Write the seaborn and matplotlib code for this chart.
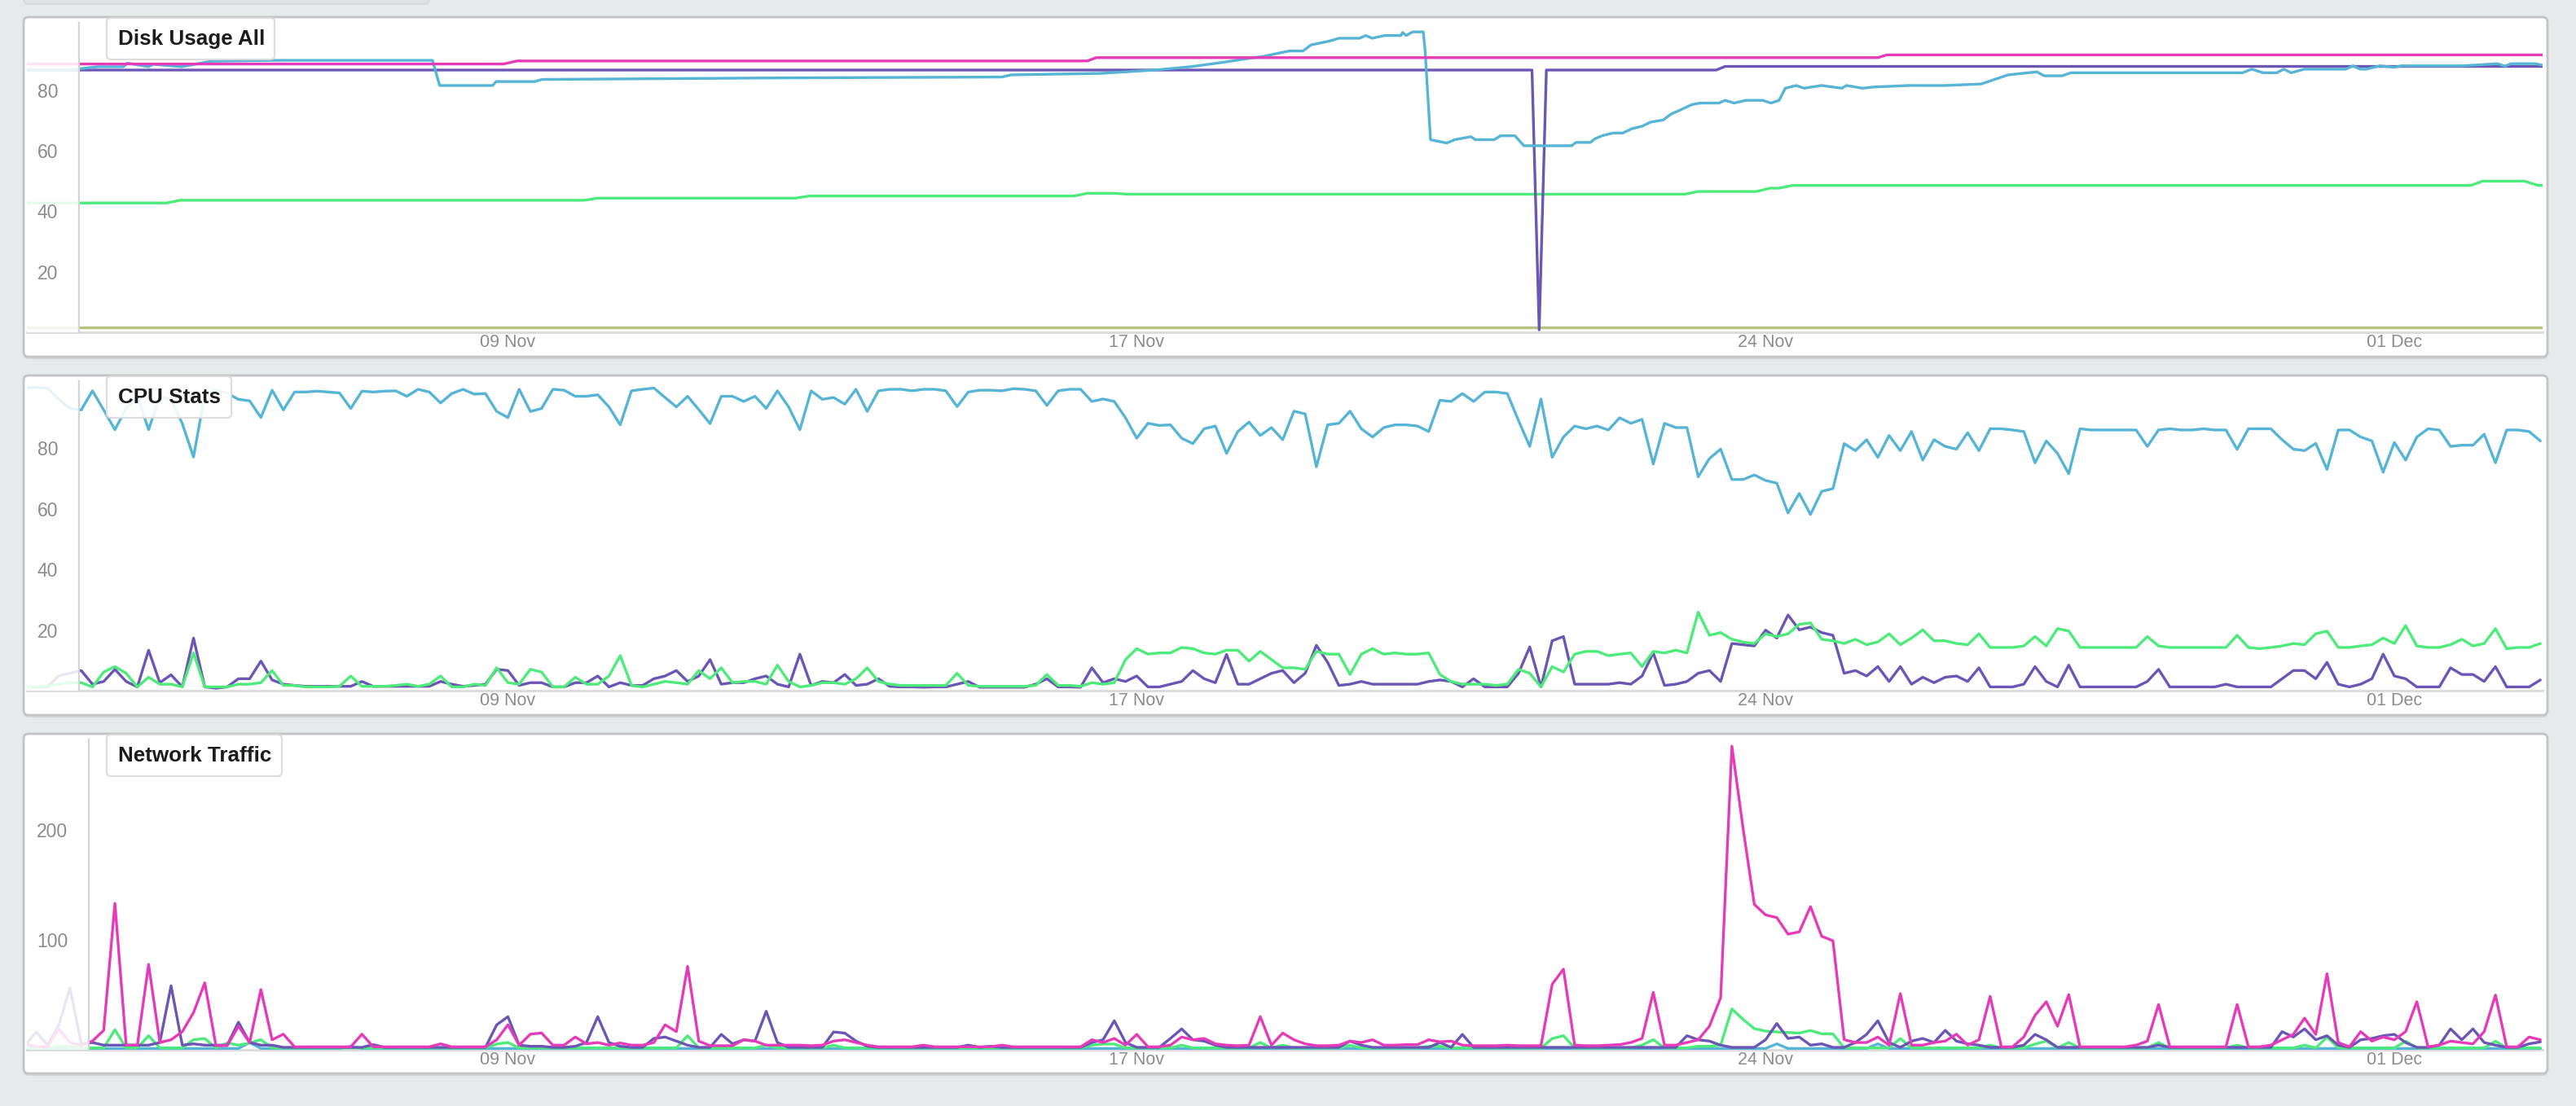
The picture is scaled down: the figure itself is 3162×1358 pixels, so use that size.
import numpy as np
import pandas as pd
import matplotlib
matplotlib.use("Agg")
import matplotlib.pyplot as plt
import seaborn as sns
from matplotlib.patches import FancyBboxPatch
from matplotlib.transforms import IdentityTransform

# ---- data (3-hourly samples, x = days, 0 is the "09 Nov" tick) ----
tick_pos = [0, 7, 14, 21]
tick_labels = ["09 Nov", "17 Nov", "24 Nov", "01 Dec"]

cpu_user = [
    99.7, 99.9, 99.7, 96.0, 93.0, 92.5, 98.8, 92.5, 86.0, 93.0,
    97.0, 86.0, 97.0, 96.0, 88.0, 77.0, 97.5, 99.0, 98.0, 96.0,
    95.5, 90.0, 99.0, 92.5, 98.4, 98.4, 98.7, 98.4, 98.1, 93.0,
    98.7, 98.4, 98.7, 98.8, 97.0, 99.3, 98.4, 94.8, 97.9, 99.3,
    97.7, 97.9, 92.0, 90.0, 99.3, 92.0, 93.0, 99.3, 99.0, 97.0,
    97.0, 97.5, 93.5, 87.6, 98.8, 99.3, 99.7, 96.6, 93.5, 97.0,
    92.6, 88.0, 97.0, 97.0, 95.3, 97.0, 93.0, 98.8, 93.5, 86.0,
    98.8, 96.0, 96.6, 94.4, 99.3, 92.0,
    98.8, 99.3, 99.3, 98.8, 99.3, 99.3, 98.8, 93.6, 98.4, 99.0,
    99.0, 98.8, 99.5, 99.3, 98.8, 94.0, 98.8, 99.3, 99.3, 95.3,
    96.1, 95.3, 89.9, 83.2, 88.1, 87.4, 87.6, 83.2, 81.4, 86.3,
    87.2, 78.2, 85.4, 88.5, 84.1, 86.7, 82.7, 92.1, 91.2, 73.8,
    87.6, 88.1, 92.1, 86.3, 83.6, 86.7, 87.6, 87.6, 87.2, 85.4,
    95.7, 95.3, 97.9, 95.3, 98.4, 98.4, 97.9, 89.0, 80.5, 96.1,
    76.9, 83.6, 87.2, 86.3, 87.2, 85.9, 89.9, 88.1, 89.4, 74.7,
    88.1, 86.7, 86.7, 70.5, 76.5,
    79.6, 69.6, 69.6, 71.1, 69.3, 68.4, 58.6, 65.0, 58.1, 65.7,
    66.6, 81.4, 79.1, 82.7, 76.9, 84.1, 79.1, 85.4, 76.0, 82.7,
    80.5, 79.6, 85.0, 79.1, 86.3, 86.3, 85.9, 85.4, 75.1, 82.3,
    78.2, 71.5, 86.3, 85.9, 85.9, 85.9, 85.9, 85.9, 80.5, 85.9,
    86.3, 85.9, 85.9, 86.3, 85.9, 85.9, 79.5, 86.3, 86.3, 86.3,
    82.7, 79.6, 79.1, 81.5, 72.9, 85.9, 85.9, 83.6, 82.3, 72.0,
    81.8, 76.0, 83.6, 86.3, 85.9, 80.5, 80.9, 80.9, 84.5, 75.1,
    85.9, 85.9, 85.4, 82.3,
]
cpu_system = [
    1.3, 1.3, 1.3, 5.0, 5.8, 6.7, 2.2, 3.1, 7.1, 3.1,
    1.3, 13.4, 2.7, 5.3, 1.3, 17.4, 1.3, 0.9, 1.3, 4.0,
    4.0, 9.8, 3.6, 2.2, 1.8, 1.5, 1.5, 1.5, 1.5, 1.5,
    3.1, 1.5, 1.5, 1.5, 1.5, 1.5, 1.5, 3.1, 2.2, 1.5,
    1.8, 2.2, 7.1, 6.7, 1.8, 2.7, 2.7, 1.3, 1.3, 2.7,
    2.7, 4.9, 1.3, 2.7, 1.8, 1.8, 4.0, 4.9, 6.7, 3.1,
    4.9, 10.3, 2.2, 2.7, 2.7, 4.0, 4.9, 2.2, 1.3, 12.1,
    1.8, 3.1, 2.7, 5.4, 1.8, 2.2,
    4.0, 1.5, 1.3, 1.3, 1.2, 1.3, 1.3, 2.2, 3.1, 1.2,
    1.2, 1.2, 1.2, 1.2, 2.2, 4.0, 1.3, 1.3, 1.2, 7.6,
    2.7, 4.0, 3.1, 4.9, 1.3, 1.3, 2.2, 3.1, 6.7, 4.0,
    2.7, 12.0, 2.2, 2.2, 4.0, 5.8, 6.7, 2.7, 5.8, 15.0,
    9.4, 1.8, 2.2, 3.1, 2.2, 2.2, 2.2, 2.2, 2.2, 3.1,
    3.6, 3.1, 1.3, 4.0, 1.3, 1.3, 1.3, 5.8, 14.5, 1.3,
    16.5, 17.9, 2.2, 2.2, 2.2, 2.2, 2.7, 2.2, 4.9, 12.5,
    1.8, 2.2, 3.1, 5.8, 6.7,
    3.1, 15.6, 15.2, 14.8, 20.0, 17.4, 25.0, 20.1, 21.0, 19.2,
    18.3, 5.8, 6.7, 4.9, 8.0, 3.1, 8.0, 2.2, 4.5, 2.7,
    4.5, 4.9, 3.1, 7.6, 1.3, 1.3, 1.3, 2.2, 8.0, 3.1,
    1.3, 8.5, 1.3, 1.3, 1.3, 1.3, 1.3, 1.3, 3.1, 7.1,
    1.3, 1.3, 1.3, 1.3, 1.3, 2.2, 1.3, 1.3, 1.3, 1.3,
    4.0, 6.7, 6.7, 4.0, 9.4, 2.2, 1.3, 2.2, 4.0, 12.1,
    4.9, 4.0, 1.3, 1.3, 1.3, 7.6, 5.4, 5.4, 3.1, 8.0,
    1.3, 1.3, 1.3, 3.6,
]
cpu_iowait = [
    1.3, 1.3, 1.5, 2.2, 2.7, 2.7, 1.3, 6.2, 8.0, 5.8,
    1.3, 4.5, 2.2, 2.2, 1.3, 12.5, 1.3, 1.3, 1.3, 2.2,
    2.2, 2.7, 6.7, 1.8, 1.8, 1.3, 1.3, 1.3, 1.5, 4.9,
    1.5, 1.5, 1.5, 1.8, 2.2, 1.5, 2.2, 4.9, 1.3, 1.3,
    2.2, 1.8, 7.6, 2.7, 2.2, 7.1, 6.2, 1.3, 1.3, 4.5,
    2.2, 2.2, 4.9, 11.6, 1.8, 1.3, 2.2, 3.1, 2.7, 2.2,
    6.7, 4.0, 7.6, 2.7, 3.1, 3.1, 2.2, 8.5, 3.1, 1.3,
    1.8, 2.7, 2.7, 2.2, 4.0, 7.6,
    3.1, 2.2, 1.8, 1.8, 1.8, 1.8, 1.8, 5.8, 1.8, 1.5,
    1.5, 1.5, 1.5, 1.5, 1.8, 5.4, 1.8, 1.8, 1.5, 2.7,
    2.2, 2.7, 10.3, 13.9, 12.1, 12.5, 12.5, 14.3, 13.9, 12.5,
    12.1, 13.4, 13.4, 9.8, 13.0, 10.3, 7.6, 7.6, 7.1, 13.0,
    12.1, 12.1, 5.4, 12.1, 13.9, 12.1, 12.5, 12.1, 12.1, 12.5,
    5.4, 3.1, 2.2, 2.2, 2.2, 1.8, 2.2, 7.1, 5.8, 1.3,
    8.0, 6.2, 12.1, 13.0, 13.0, 11.6, 12.1, 12.5, 8.0, 13.0,
    12.5, 13.4, 12.5, 25.9, 18.3,
    19.2, 17.0, 16.1, 15.6, 18.8, 17.9, 18.8, 21.9, 22.4, 17.0,
    16.5, 15.6, 17.0, 15.2, 16.1, 18.8, 15.2, 17.4, 20.1, 16.5,
    16.5, 15.6, 15.2, 18.8, 14.3, 14.3, 14.3, 14.8, 17.9, 14.8,
    20.5, 19.7, 14.3, 14.3, 14.3, 14.3, 14.3, 14.3, 17.9, 14.8,
    14.3, 14.3, 14.3, 14.3, 14.3, 14.3, 18.3, 14.3, 13.9, 14.3,
    14.8, 15.6, 15.2, 18.8, 19.7, 14.3, 14.3, 14.8, 15.2, 17.4,
    15.6, 21.5, 14.8, 14.3, 14.3, 15.2, 17.0, 14.8, 15.6, 20.5,
    13.9, 14.3, 14.3, 15.6,
]

net_out = [
    5.2, 2.5, 2.5, 18.8, 6.4, 4.0, 7.7, 17.5, 133, 4.0,
    4.0, 77.5, 6.4, 8.9, 16.3, 33.6, 60.7, 3.5, 3.5, 21.2,
    6.4, 54.6, 8.9, 14.0, 2.5, 2.5, 2.5, 2.5, 2.5, 2.5,
    14.0, 2.5, 2.5, 2.5, 2.5, 2.5, 2.5, 5.2, 2.5, 2.5,
    2.5, 2.5, 8.9, 22.5, 4.0, 14.0, 15.1, 4.0, 4.0, 11.4,
    5.2, 6.4, 4.0, 6.0, 4.0, 4.0, 6.4, 22.5, 16.3, 75.6,
    7.7, 3.5, 3.5, 3.5, 8.9, 7.7, 4.0, 4.0, 4.0, 4.0,
    3.5, 4.0, 7.7, 8.9, 6.4, 4.0,
    2.5, 2.5, 2.5, 2.5, 4.0, 2.5, 2.5, 2.5, 2.5, 2.5,
    2.5, 4.0, 2.5, 2.5, 2.5, 2.5, 2.5, 2.5, 2.5, 8.9,
    6.4, 10.1, 4.0, 13.8, 2.5, 2.5, 4.0, 11.4, 8.9, 10.1,
    5.2, 4.0, 3.5, 4.0, 29.9, 4.0, 15.0, 8.9, 5.2, 3.5,
    3.5, 4.0, 7.7, 6.4, 8.9, 4.0, 4.0, 4.5, 4.5, 8.9,
    7.0, 7.7, 4.0, 3.5, 3.5, 3.5, 4.0, 3.5, 3.5, 3.5,
    59.5, 73.1, 4.0, 3.5, 3.5, 4.0, 4.5, 6.4, 10.1, 52.1,
    4.0, 4.0, 6.4, 8.9, 21.2,
    47.2, 276, 201, 132, 122.5, 120, 105, 107, 130, 103,
    99, 9.0, 6.4, 6.4, 11.4, 4.0, 50.9, 4.0, 4.0, 6.4,
    7.7, 14.0, 4.0, 8.9, 48.4, 2.5, 2.5, 11.4, 31.1, 43.5,
    21.2, 50.0, 2.5, 2.5, 2.5, 2.5, 2.5, 4.0, 7.7, 41.0,
    2.5, 2.5, 2.5, 2.5, 2.5, 2.5, 41.0, 2.5, 2.5, 4.0,
    8.9, 13.8, 28.6, 13.8, 69.0, 6.4, 2.5, 16.3, 7.7, 11.4,
    8.9, 16.3, 43.5, 2.5, 4.0, 7.7, 6.4, 5.2, 16.3, 49.6,
    2.5, 2.5, 11.4, 8.9,
]
net_in = [
    4.0, 16.0, 4.0, 22.0, 56.0, 5.2, 6.4, 4.0, 4.0, 4.0,
    4.0, 4.0, 6.4, 58.0, 4.0, 5.2, 4.0, 4.0, 4.0, 24.9,
    6.4, 4.0, 4.0, 2.0, 2.0, 2.0, 2.0, 2.0, 2.0, 2.0,
    2.0, 4.5, 2.0, 2.0, 2.0, 2.0, 2.0, 2.0, 2.0, 2.0,
    2.0, 2.0, 22.5, 29.9, 4.0, 3.0, 3.0, 2.0, 2.0, 3.0,
    6.4, 29.9, 6.4, 3.0, 2.0, 2.0, 10.1, 11.4, 7.7, 4.0,
    2.0, 2.0, 13.8, 5.2, 8.9, 7.7, 34.8, 6.4, 2.0, 2.0,
    2.0, 2.0, 16.0, 15.0, 7.7, 3.0,
    2.0, 2.0, 2.0, 2.0, 2.0, 2.0, 2.0, 2.0, 4.0, 2.0,
    3.0, 2.0, 2.0, 2.0, 2.0, 2.0, 2.0, 2.0, 2.0, 6.4,
    8.9, 26.2, 6.4, 2.0, 2.0, 2.0, 10.1, 18.8, 8.9, 7.7,
    4.0, 2.0, 2.0, 2.0, 2.0, 2.0, 2.0, 2.0, 2.0, 2.0,
    2.0, 2.0, 7.7, 4.0, 2.0, 2.0, 2.0, 2.0, 2.0, 2.0,
    6.4, 2.0, 13.8, 2.0, 2.0, 2.0, 2.0, 2.0, 2.0, 2.0,
    2.0, 2.0, 2.0, 2.0, 2.0, 2.0, 2.0, 2.0, 2.0, 2.0,
    2.0, 2.0, 12.6, 8.9, 7.7,
    4.0, 2.0, 2.0, 2.0, 8.9, 23.7, 10.1, 11.4, 4.0, 5.2,
    2.0, 2.0, 6.4, 13.8, 26.2, 6.4, 2.0, 7.7, 10.1, 6.4,
    17.5, 7.7, 5.2, 4.0, 2.0, 2.0, 2.0, 4.0, 13.8, 8.9,
    2.0, 2.0, 2.0, 2.0, 2.0, 2.0, 2.0, 2.0, 2.0, 4.0,
    2.0, 2.0, 2.0, 2.0, 2.0, 2.0, 2.0, 2.0, 2.0, 2.0,
    16.3, 11.4, 18.8, 8.9, 12.6, 4.0, 2.0, 8.9, 10.1, 12.6,
    13.8, 6.4, 2.0, 2.0, 4.0, 18.8, 8.9, 18.8, 6.4, 4.0,
    2.0, 2.0, 5.2, 7.0,
]
net_err = [
    1.5, 1.5, 1.5, 3.0, 3.0, 1.5, 1.5, 1.5, 18.0, 1.5,
    1.5, 12.6, 1.5, 1.5, 1.5, 9.0, 10.0, 1.5, 6.0, 4.0,
    6.0, 9.0, 1.5, 1.5, 1.5, 1.5, 1.5, 1.5, 1.5, 1.5,
    1.5, 1.5, 1.5, 1.5, 1.5, 1.5, 1.5, 1.5, 1.5, 1.5,
    1.5, 1.5, 5.0, 6.4, 1.5, 1.5, 1.5, 1.5, 1.5, 1.5,
    1.5, 1.5, 1.5, 1.5, 1.5, 1.5, 1.5, 1.5, 1.5, 12.6,
    1.5, 1.5, 1.5, 1.5, 1.5, 1.5, 4.0, 1.5, 1.5, 1.5,
    1.5, 1.5, 4.0, 1.5, 1.5, 1.5,
    1.5, 1.5, 1.5, 1.5, 1.5, 1.5, 1.5, 1.5, 1.5, 1.5,
    1.5, 1.5, 1.5, 1.5, 1.5, 1.5, 1.5, 1.5, 1.5, 4.0,
    5.0, 5.0, 1.5, 1.5, 1.5, 1.5, 1.5, 4.0, 1.5, 1.5,
    1.5, 1.5, 1.5, 1.5, 6.4, 1.5, 4.0, 1.5, 1.5, 1.5,
    1.5, 1.5, 4.0, 1.5, 1.5, 1.5, 1.5, 1.5, 1.5, 3.0,
    3.0, 1.5, 1.5, 1.5, 1.5, 1.5, 1.5, 1.5, 1.5, 1.5,
    10.0, 12.6, 1.5, 1.5, 1.5, 1.5, 1.5, 1.5, 4.0, 9.0,
    1.5, 1.5, 1.5, 3.0, 3.0,
    4.0, 37.0, 27.4, 19.0, 16.8, 16.0, 15.5, 15.0, 17.3, 14.3,
    14.3, 1.5, 1.5, 1.5, 1.5, 1.5, 10.0, 1.5, 1.5, 1.5,
    1.5, 1.5, 1.5, 1.5, 4.0, 1.5, 1.5, 1.5, 5.0, 7.7,
    1.5, 6.4, 1.5, 1.5, 1.5, 1.5, 1.5, 1.5, 1.5, 6.4,
    1.5, 1.5, 1.5, 1.5, 1.5, 1.5, 4.0, 1.5, 1.5, 1.5,
    1.5, 1.5, 4.0, 1.5, 11.4, 1.5, 1.5, 1.5, 1.5, 1.5,
    1.5, 7.6, 1.5, 1.5, 1.5, 1.5, 1.5, 1.5, 1.5, 7.6,
    1.5, 1.5, 1.5, 1.5,
]
net_drop = [
    1.0, 1.0, 1.0, 1.0, 1.0, 1.0, 1.0, 1.0, 1.0, 1.0,
    1.0, 1.0, 1.0, 1.0, 1.0, 1.0, 1.0, 1.0, 1.0, 1.0,
    6.4, 1.0, 1.0, 1.0, 1.0, 1.0, 1.0, 1.0, 1.0, 3.0,
    1.0, 1.0, 1.0, 1.0, 1.0, 1.0, 1.0, 1.0, 1.0, 1.0,
    1.0, 1.0, 1.0, 1.0, 1.0, 1.0, 1.0, 1.0, 1.0, 1.0,
    1.0, 1.0, 1.0, 1.0, 1.0, 1.0, 1.0, 1.0, 1.0, 1.0,
    1.0, 1.0, 1.0, 1.0, 1.0, 1.0, 1.0, 1.0, 1.0, 1.0,
    1.0, 1.0, 1.0, 1.0, 1.0, 1.0,
    1.0, 1.0, 1.0, 1.0, 1.0, 1.0, 1.0, 1.0, 1.0, 1.0,
    1.0, 1.0, 1.0, 1.0, 1.0, 1.0, 1.0, 1.0, 1.0, 1.0,
    1.0, 1.0, 1.0, 1.0, 1.0, 1.0, 1.0, 1.0, 1.0, 1.0,
    1.0, 1.0, 1.0, 1.0, 1.0, 1.0, 1.0, 1.0, 1.0, 1.0,
    1.0, 1.0, 1.0, 1.0, 1.0, 1.0, 1.0, 1.0, 1.0, 1.0,
    1.0, 1.0, 1.0, 1.0, 1.0, 1.0, 1.0, 1.0, 1.0, 1.0,
    1.0, 1.0, 1.0, 1.0, 1.0, 1.0, 1.0, 1.0, 1.0, 1.0,
    1.0, 1.0, 1.0, 1.0, 1.0,
    1.0, 1.0, 1.0, 1.0, 1.0, 5.2, 1.0, 1.0, 1.0, 1.0,
    1.0, 1.0, 1.0, 1.0, 5.2, 1.0, 1.0, 1.0, 1.0, 1.0,
    1.0, 1.0, 1.0, 1.0, 1.0, 1.0, 1.0, 1.0, 1.0, 1.0,
    1.0, 1.0, 1.0, 1.0, 1.0, 1.0, 1.0, 1.0, 1.0, 1.0,
    1.0, 1.0, 1.0, 1.0, 1.0, 1.0, 1.0, 1.0, 1.0, 1.0,
    1.0, 1.0, 1.0, 1.0, 1.0, 1.0, 1.0, 1.0, 1.0, 1.0,
    1.0, 1.0, 1.0, 1.0, 1.0, 1.0, 1.0, 1.0, 1.0, 1.0,
    1.0, 1.0, 1.0, 1.0,
]

# disk usage: breakpoints (day, percent)
disk_a_day = [-5.4, -4.9, -4.56, -4.28, -4.24, -4.0, -3.95, -3.63, -3.31, -2.58,
              -0.84, -0.76, -0.17, -0.13, 0.3, 0.38, 3.0, 5.5, 5.6, 6.6,
              7.2, 7.6, 7.95, 8.3, 8.41, 8.55, 8.7, 8.85, 8.94, 9.15,
              9.25, 9.48, 9.55, 9.62, 9.76, 9.94, 9.96, 10.0, 10.07, 10.19,
              10.21, 10.27, 10.45, 10.54, 10.72, 10.77, 10.98, 11.05, 11.21, 11.31,
              11.84, 11.89, 12.05, 12.1, 12.18, 12.3, 12.41, 12.51, 12.63, 12.72,
              12.86, 12.95, 13.05, 13.18, 13.27, 13.48, 13.55, 13.65, 13.78, 13.97,
              14.06, 14.15, 14.22, 14.34, 14.43, 14.62, 14.85, 14.9, 15.08, 15.2,
              15.6, 16.0, 16.4, 16.7, 17.02, 17.1, 17.3, 17.4, 19.31, 19.41,
              19.54, 19.69, 19.77, 19.85, 20.0, 20.46, 20.54, 20.62, 20.69, 20.84,
              21.0, 21.08, 21.76, 22.15, 22.23, 22.3, 22.57, 22.65]
disk_a_pct = [86.6, 86.6, 87.7, 87.7, 88.9, 87.7, 88.5, 87.7, 89.5, 89.8,
              89.8, 81.5, 81.5, 82.8, 82.8, 83.5, 84.0, 84.3, 85.0, 85.5,
              86.6, 87.7, 89.1, 90.7, 91.1, 92.0, 92.9, 92.9, 94.9, 96.2,
              97.1, 97.1, 98.0, 97.1, 98.0, 98.0, 99.0, 98.0, 99.2, 99.2,
              93.0, 63.6, 62.5, 63.6, 64.6, 63.6, 63.6, 64.9, 64.9, 61.6,
              61.6, 62.7, 62.7, 63.9, 64.9, 65.8, 65.8, 67.2, 68.1, 69.4,
              70.1, 72.1, 73.4, 75.2, 75.7, 75.7, 76.6, 75.7, 76.6, 76.6,
              75.7, 76.6, 80.6, 81.5, 80.6, 81.5, 80.6, 81.5, 80.6, 81.0,
              81.5, 81.5, 82.0, 85.0, 86.0, 84.7, 84.7, 85.7, 85.7, 86.9,
              85.7, 85.7, 86.9, 85.7, 86.9, 86.9, 88.0, 86.9, 86.9, 88.0,
              87.5, 88.0, 88.0, 88.7, 87.9, 88.7, 88.7, 88.2]
disk_b_day = [-5.4, -0.05, 0.1, 6.45, 6.55, 15.25, 15.35, 22.65]
disk_b_pct = [88.6, 88.6, 89.6, 89.6, 90.7, 90.7, 91.6, 91.6]
disk_c_day = [-5.4, 11.40, 11.48, 11.56, 13.45, 13.55, 22.65]
disk_c_pct = [86.6, 86.6, 0.8, 86.6, 86.6, 87.8, 87.8]
disk_d_day = [-5.4, -3.8, -3.65, 0.85, 1.0, 3.2, 3.35, 6.3, 6.45, 6.75,
              6.9, 13.1, 13.25, 13.9, 14.05, 14.15, 14.3, 21.85, 21.98, 22.45,
              22.6, 22.65]
disk_d_pct = [42.7, 42.7, 43.6, 43.6, 44.3, 44.3, 45.0, 45.0, 45.9, 45.9,
              45.6, 45.6, 46.5, 46.5, 47.6, 47.6, 48.5, 48.5, 49.9, 49.9,
              48.5, 48.5]
disk_e_day = [-5.4, 22.65]
disk_e_pct = [1.5, 1.5]

# ---- styling ----
W, H = 3162, 1358
BG = "#e7eaeb"
CYAN, PINK, PURPLE, GREEN, OLIVE = "#56b4d6", "#e63bb8", "#6b55b5", "#4ceb7a", "#b7c27c"

sns.set_theme(style="white")
plt.rcParams["font.family"] = ["Liberation Sans", "DejaVu Sans"]

fig = plt.figure(figsize=(W / 100, H / 100), dpi=100)
fig.patch.set_facecolor(BG)


def rbox(x0, y0, x1, y1, fc, ec, lw, z, r=6, alpha=1.0):
    p = FancyBboxPatch((x0, H - y1), x1 - x0, y1 - y0,
                       boxstyle=f"round,pad=0,rounding_size={r}",
                       transform=IdentityTransform(), fc=fc, ec=ec, lw=lw,
                       zorder=z, alpha=alpha)
    fig.patches.append(p)


# the panel cut off at the top of the page
rbox(29, -30, 527, 5, "#e0e3e4", "#d6d9da", 1.2, -2)

grid = np.arange(len(cpu_user)) * 0.125 - 5.375
x_lo, x_hi = -5.355, 22.65

panels = [
    dict(box=(29, 21, 3127, 438), top=28, bot=408, ymax=102.2, spine=-4.775,
         yt=[20, 40, 60, 80], title="Disk Usage All", tbox=(131, 337)),
    dict(box=(29, 461, 3127, 878), top=468.3, bot=848.3, ymax=101.9, spine=-4.775,
         yt=[20, 40, 60, 80], title="CPU Stats", tbox=(131, 284)),
    dict(box=(29, 901, 3127, 1318), top=908, bot=1288.7, ymax=282, spine=-4.666,
         yt=[100, 200], title="Network Traffic", tbox=(131, 346)),
]

disk_df = pd.concat([
    pd.DataFrame({"day": disk_e_day, "value": disk_e_pct, "series": "e"}),
    pd.DataFrame({"day": disk_d_day, "value": disk_d_pct, "series": "d"}),
    pd.DataFrame({"day": disk_c_day, "value": disk_c_pct, "series": "c"}),
    pd.DataFrame({"day": disk_a_day, "value": disk_a_pct, "series": "a"}),
    pd.DataFrame({"day": disk_b_day, "value": disk_b_pct, "series": "b"}),
])
cpu_df = pd.DataFrame({
    "day": np.tile(grid, 3),
    "value": cpu_user + cpu_system + cpu_iowait,
    "series": ["user"] * len(grid) + ["system"] * len(grid) + ["iowait"] * len(grid),
})
net_df = pd.DataFrame({
    "day": np.tile(grid, 4),
    "value": net_drop + net_err + net_in + net_out,
    "series": ["drop"] * len(grid) + ["err"] * len(grid) + ["in"] * len(grid) + ["out"] * len(grid),
})
frames = [
    (disk_df, ["e", "d", "c", "a", "b"], [OLIVE, GREEN, PURPLE, CYAN, PINK]),
    (cpu_df, ["user", "system", "iowait"], [CYAN, PURPLE, GREEN]),
    (net_df, ["drop", "err", "in", "out"], [CYAN, GREEN, PURPLE, PINK]),
]

for p, (df, order, cols) in zip(panels, frames):
    bx0, by0, bx1, by1 = p["box"]
    rbox(bx0, by0 + 3, bx1, by1 + 3, "#d3d6d7", "none", 0, -2)
    rbox(bx0, by0, bx1, by1, "white", "#c2c4c5", 2.0, -1)

    ax = fig.add_axes([33 / W, 1 - p["bot"] / H, (3121 - 33) / W, (p["bot"] - p["top"]) / H])
    ax.set_facecolor("none")
    sns.lineplot(data=df, x="day", y="value", hue="series", hue_order=order,
                 palette=dict(zip(order, cols)), estimator=None, sort=False,
                 legend=False, linewidth=2.4, ax=ax)
    ax.set_xlim(x_lo, x_hi)
    ax.set_ylim(0, p["ymax"])
    ax.set_xlabel("")
    ax.set_ylabel("")

    # faded strip left of the y axis
    ax.axvspan(x_lo - 1, p["spine"], fc="white", alpha=0.86, lw=0, zorder=3)

    for s in ["top", "right"]:
        ax.spines[s].set_visible(False)
    ax.spines["left"].set_position(("data", p["spine"]))
    ax.spines["left"].set_color("#d4d4d4")
    ax.spines["left"].set_linewidth(1.6)
    ax.spines["bottom"].set_color("#dcdcdc")
    ax.spines["bottom"].set_linewidth(2.2)
    ax.spines["left"].set_zorder(4)
    ax.spines["bottom"].set_zorder(1)

    ax.set_yticks(p["yt"])
    ax.set_yticklabels([str(v) for v in p["yt"]])
    ax.set_xticks(tick_pos)
    ax.set_xticklabels(tick_labels)
    ax.tick_params(axis="y", direction="out", length=13.5, width=1.3, color="#cfcfcf",
                   pad=5, labelsize=16.5, labelcolor="#8c8c8c")
    ax.tick_params(axis="x", direction="in", length=13, width=1.3, color="#d0d0d0",
                   pad=1.5, labelsize=15.5, labelcolor="#8c8c8c")
    ax.yaxis.set_zorder(5)
    ax.xaxis.set_zorder(5)

    # title tab
    tx0, tx1 = p["tbox"]
    rbox(tx0, by0 + 1, tx1, by0 + 52, "white", "#dadada", 1.6, 5, r=5, alpha=0.9)
    fig.text(145 / W, 1 - (by0 + 27) / H, p["title"], fontsize=18.7, fontweight="bold",
             color="#1c1c1c", va="center", ha="left", zorder=6)

fig.savefig("out.png", dpi=100, facecolor=BG)
